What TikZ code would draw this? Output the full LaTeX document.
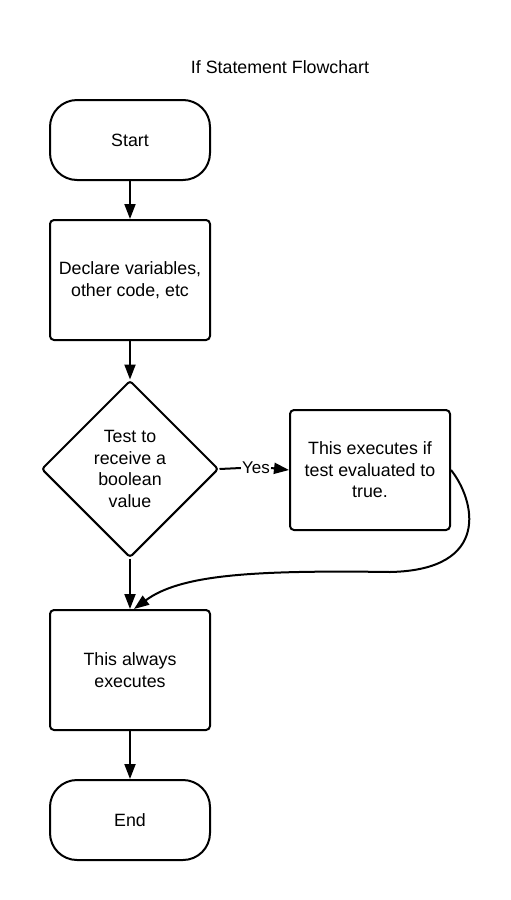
\documentclass[tikz,border=0pt]{standalone}
\usepackage{fontspec}
\setmainfont{Liberation Sans}
\usetikzlibrary{shapes.geometric,arrows.meta}
\begin{document}
\begin{tikzpicture}[x=1pt,y=-1pt,
  txt/.style={font=\fontsize{17.8}{21.5}\selectfont, align=center},
  term/.style={txt, draw, line width=2pt, rounded corners=27pt, minimum width=160pt, minimum height=80pt},
  proc/.style={txt, draw, line width=2pt, rounded corners=4pt, minimum width=160pt, minimum height=120pt},
  deci/.style={txt, draw, line width=2pt, diamond, aspect=1, minimum width=177pt, minimum height=177pt, inner sep=0pt, rounded corners=3pt},
  flow/.style={line width=2pt, -{Triangle[length=15pt,width=11pt]}}
]
\useasboundingbox (0,0) rectangle (511,900);
\node[txt] (title) at (280,67) {If Statement Flowchart};
\node[term] (start) at (130,140) {Start};
\node[proc] (decl) at (130,280) {Declare variables,\\other code, etc};
\node[deci] (test) at (130,469) {Test to\\receive a\\boolean\\value};
\node[proc] (yes) at (370,470) {This executes if\\test evaluated to\\true.};
\node[proc] (always) at (130,670) {This always\\executes};
\node[term] (end) at (130,820) {End};
\node[font=\fontsize{17}{20}\selectfont, inner sep=1pt] (ylab) at (256,468) {Yes};

\draw[flow] (start) -- (decl);
\draw[flow] (decl) -- (test);
\draw[line width=2pt] (test.east) -- (ylab.west);
\draw[flow] (ylab.east) -- (yes.west);
\draw[flow] (test.south) -- (always.north);
\draw[flow] (yes.east) .. controls (475,500) and (492,570) .. (390,572)
  .. controls (250,570) and (180,575) .. ([xshift=4pt]always.north);
\draw[flow] (always) -- (end);
\end{tikzpicture}
\end{document}
